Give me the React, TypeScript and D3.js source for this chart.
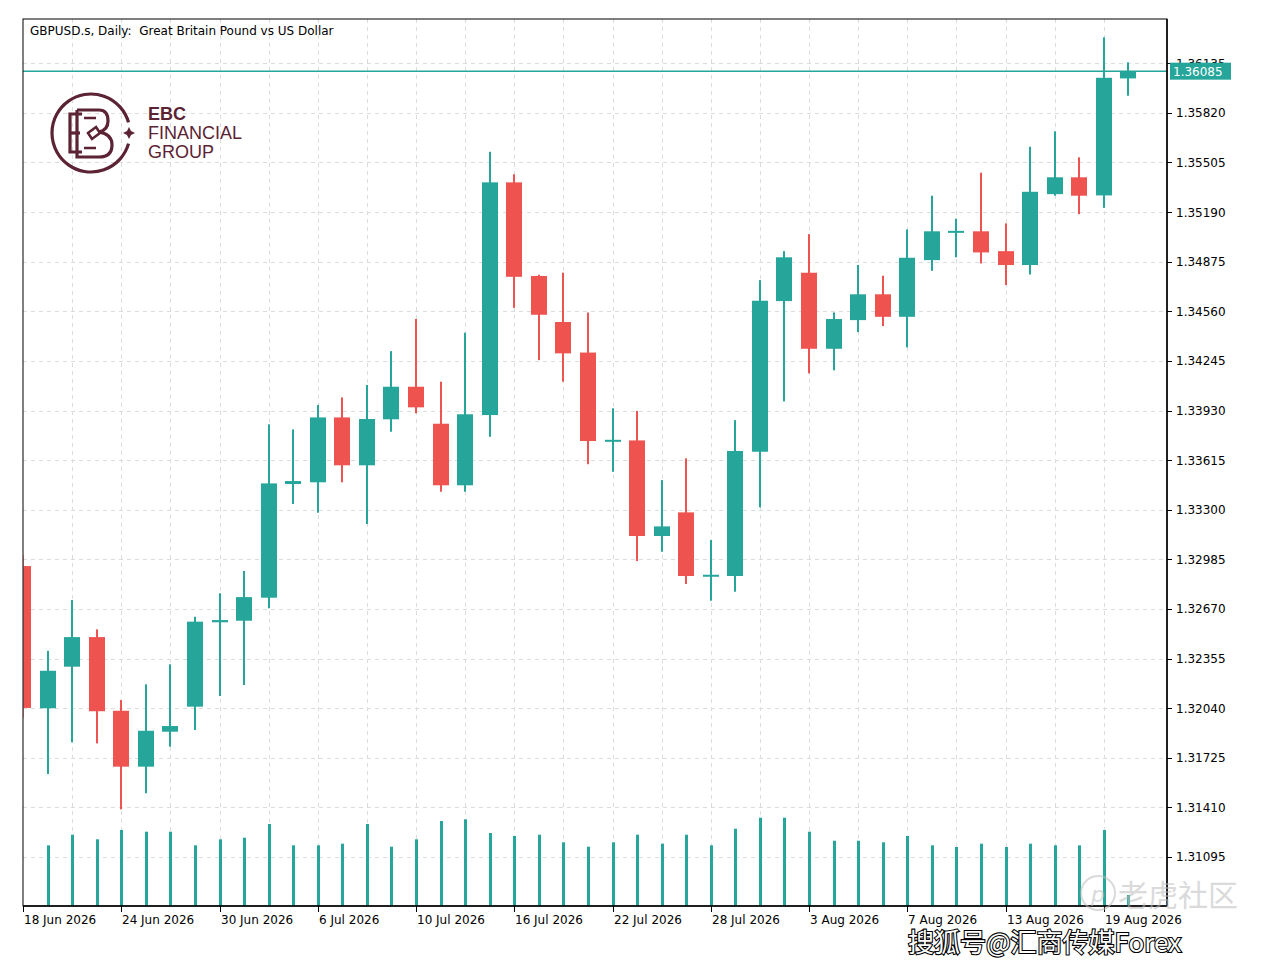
import * as d3 from "d3";

const title = "GBPUSD.s, Daily:  Great Britain Pound vs US Dollar";

const dates = [
  "2026-06-18", "2026-06-19", "2026-06-22", "2026-06-23", "2026-06-24", "2026-06-25", "2026-06-26",
  "2026-06-29", "2026-06-30", "2026-07-01", "2026-07-02", "2026-07-03", "2026-07-06", "2026-07-07",
  "2026-07-08", "2026-07-09", "2026-07-10", "2026-07-13", "2026-07-14", "2026-07-15", "2026-07-16",
  "2026-07-17", "2026-07-20", "2026-07-21", "2026-07-22", "2026-07-23", "2026-07-24", "2026-07-27",
  "2026-07-28", "2026-07-29", "2026-07-30", "2026-07-31", "2026-08-03", "2026-08-04", "2026-08-05",
  "2026-08-06", "2026-08-07", "2026-08-10", "2026-08-11", "2026-08-12", "2026-08-13", "2026-08-14",
  "2026-08-17", "2026-08-18", "2026-08-19", "2026-08-20",
];

const open = [
  1.32942, 1.32039, 1.32303, 1.32491, 1.32023, 1.31668, 1.3189, 1.32049, 1.32585, 1.32595,
  1.32741, 1.33463, 1.33474, 1.33886, 1.33582, 1.33874, 1.34081, 1.33846, 1.33455, 1.33901,
  1.35379, 1.34784, 1.34492, 1.34298, 1.33736, 1.3374, 1.33133, 1.33283, 1.32879, 1.32879,
  1.33668, 1.34625, 1.34805, 1.34322, 1.34504, 1.34668, 1.34525, 1.34885, 1.35063, 1.35068,
  1.34942, 1.34854, 1.35304, 1.35411, 1.35296, 1.36039,
];
const high = [
  1.3301, 1.32404, 1.32726, 1.3254, 1.32091, 1.32191, 1.32318, 1.3262, 1.32769, 1.32911,
  1.33842, 1.3381, 1.33965, 1.34013, 1.34092, 1.34307, 1.34511, 1.34113, 1.34424, 1.35573,
  1.3543, 1.34792, 1.34805, 1.34552, 1.33944, 1.33927, 1.33488, 1.33626, 1.33107, 1.33869,
  1.34758, 1.34942, 1.3505, 1.34553, 1.34854, 1.34786, 1.3508, 1.35294, 1.35148, 1.3544,
  1.35118, 1.35605, 1.35703, 1.35538, 1.363, 1.36141,
];
const low = [
  1.3198, 1.31621, 1.31823, 1.31816, 1.31397, 1.31499, 1.31795, 1.31901, 1.32117, 1.32187,
  1.32674, 1.33336, 1.33281, 1.33474, 1.33209, 1.33795, 1.33912, 1.33414, 1.33414, 1.33763,
  1.34582, 1.3425, 1.34113, 1.33589, 1.33541, 1.32974, 1.33033, 1.32828, 1.32722, 1.32779,
  1.33315, 1.33988, 1.34166, 1.34185, 1.34428, 1.34466, 1.34331, 1.34817, 1.34903, 1.34864,
  1.34727, 1.34794, 1.35294, 1.35177, 1.35217, 1.35929,
];
const close = [
  1.32041, 1.32277, 1.32491, 1.3202, 1.31668, 1.31896, 1.31926, 1.32589, 1.32599, 1.32745,
  1.33467, 1.33482, 1.33886, 1.33582, 1.33876, 1.34081, 1.3395, 1.33455, 1.33906, 1.35379,
  1.34779, 1.34538, 1.34293, 1.33736, 1.33739, 1.33133, 1.33194, 1.32879, 1.32882, 1.33673,
  1.34627, 1.34903, 1.34322, 1.34511, 1.34668, 1.34525, 1.349, 1.35068, 1.35066, 1.34934,
  1.34854, 1.35319, 1.35411, 1.35294, 1.36043, 1.36085,
];
// tick volume, thousands
const volume = [
  60, 60.7, 71.3, 66.7, 76, 74.3, 74.3, 60.7, 66.7, 68.3,
  82, 60.7, 60.7, 62.3, 82, 59.3, 66.7, 85, 86.7, 73,
  70, 71.3, 63.7, 59.3, 63.7, 71.3, 62.3, 71.3, 60.7, 77.3,
  88.3, 88.3, 74.3, 65.3, 65.3, 63.7, 70, 60.7, 59, 62.3,
  59, 62.3, 60.7, 60.7, 76, 11,
];

const priceTicks = [
  1.31095, 1.3141, 1.31725, 1.3204, 1.32355, 1.3267, 1.32985, 1.333, 1.33615,
  1.3393, 1.34245, 1.3456, 1.34875, 1.3519, 1.35505, 1.3582, 1.36135,
];
const lastPrice = 1.36085;

const GREEN = "#26a69a";
const RED = "#ef5350";
const GRID = "#dcdcdc";
const LOGO = "#5b2333";
const FONT = "'DejaVu Sans', Tahoma, sans-serif";

const W = 1267;
const H = 970;
const left = 23;
const right = 1167;
const top = 19;
const bottom = 906;

export default function App() {
  const parse = d3.timeParse("%Y-%m-%d");
  const fmt = d3.timeFormat("%-d %b %Y");
  const n = dates.length;

  const x = d3.scaleLinear().domain([0, n - 1]).range([23.1, 23.1 + (n - 1) * 24.56]);
  const y = d3.scaleLinear().domain([1.31095, 1.36135]).range([856.9, 63.3]);
  const v = d3.scaleLinear().domain([0, 100]).range([bottom, bottom - 100]);

  const idx = d3.range(n);
  const labelIdx = idx.filter((i) => i % 4 === 0);
  const gridIdx = idx.filter((i) => i % 2 === 0 && i > 0);
  const bodyW = 16;
  const yl = y(lastPrice);

  return (
    <svg width={W} height={H} style={{ position: "absolute", left: 0, top: 0, background: "#fff" }}>
      <defs>
        <clipPath id="plot">
          <rect x={left + 0.5} y={top} width={right - left - 0.5} height={bottom - top} />
        </clipPath>
        <clipPath id="vol">
          <rect x={left + 3} y={top} width={right - left - 3} height={bottom - top} />
        </clipPath>
      </defs>
      <rect width={W} height={H} fill="#fff" />

      {/* grid */}
      <g stroke={GRID} strokeWidth={1} strokeDasharray="4 4">
        {priceTicks.map((p) => (
          <line key={p} x1={left} x2={right} y1={Math.round(y(p)) + 0.5} y2={Math.round(y(p)) + 0.5} />
        ))}
        {gridIdx.map((i) => (
          <line key={i} x1={Math.round(x(i)) + 0.5} x2={Math.round(x(i)) + 0.5} y1={top} y2={bottom} />
        ))}
      </g>

      {/* logo */}
      <g stroke={LOGO} strokeWidth={3.2} fill="none" strokeLinejoin="miter">
        <path d={d3.arc()({ innerRadius: 39, outerRadius: 39, startAngle: 0.55 * Math.PI + 0.12, endAngle: 2.45 * Math.PI - 0.12 }) || ""} transform="translate(91,133)" />
        <path d="M 82 114 H 70 V 152 H 82" />
        <path d="M 70 133 H 80" />
        <path d="M 77 110 H 99 Q 108 110 108 121 Q 108 130 99 132 Q 112 134 112 145 Q 112 157 99 157 H 77 V 110" />
        <path d="M 84 118 H 96 M 88 133 L 96 127 L 100 133 L 92 139 Z M 84 148 H 96" strokeWidth={2.6} />
      </g>
      <path d="M 129 127 L 131 131 L 135 133 L 131 135 L 129 139 L 127 135 L 123 133 L 127 131 Z" fill={LOGO} />
      <g fill={LOGO} fontFamily="'Liberation Sans', Arial, sans-serif" fontSize={18}>
        <text x={148} y={120} fontWeight="bold">EBC</text>
        <text x={148} y={139}>FINANCIAL</text>
        <text x={148} y={158}>GROUP</text>
      </g>

      {/* volumes */}
      <g clipPath="url(#vol)">
        {idx.map((i) => (
          <rect key={i} x={Math.round(x(i)) - 1} y={v(volume[i])} width={3} height={bottom - v(volume[i])} fill={GREEN} />
        ))}
      </g>

      {/* candles */}
      <g clipPath="url(#plot)">
        {idx.map((i) => {
          const up = close[i] >= open[i];
          const c = up ? GREEN : RED;
          const cx = Math.round(x(i));
          const yt = y(Math.max(open[i], close[i]));
          const yb = y(Math.min(open[i], close[i]));
          const h = Math.max(2, yb - yt);
          return (
            <g key={i}>
              <rect x={cx - 1} y={y(high[i])} width={2} height={y(low[i]) - y(high[i])} fill={c} />
              <rect x={cx - bodyW / 2} y={h === 2 ? (yt + yb) / 2 - 1 : yt} width={bodyW} height={h} fill={c} />
            </g>
          );
        })}
      </g>

      {/* current price line */}
      <line x1={left} x2={right} y1={yl} y2={yl} stroke={GREEN} strokeWidth={1.5} />

      {/* frame */}
      <rect x={left} y={top} width={right - left} height={bottom - top} fill="none" stroke="#000" strokeWidth={1} />
      <line x1={left} x2={right} y1={bottom} y2={bottom} stroke="#000" strokeWidth={1.5} />
      <line x1={right} x2={right} y1={top} y2={bottom} stroke="#000" strokeWidth={1.5} />

      {/* title */}
      <text x={30} y={35} fontFamily={FONT} fontSize={12} fill="#000" style={{ whiteSpace: "pre" }}>{title}</text>

      {/* y axis */}
      <g fontFamily={FONT} fontSize={12} fill="#000">
        {priceTicks.map((p) => (
          <g key={p}>
            <line x1={right} x2={right + 5} y1={Math.round(y(p)) + 0.5} y2={Math.round(y(p)) + 0.5} stroke="#000" />
            <text x={right + 9} y={y(p) + 4.5}>{p.toFixed(5)}</text>
          </g>
        ))}
      </g>
      <rect x={right + 3} y={yl - 8.5} width={61} height={17} fill={GREEN} />
      <text x={right + 6} y={yl + 4.5} fontFamily={FONT} fontSize={12} fill="#fff">{lastPrice.toFixed(5)}</text>

      {/* x axis */}
      <g fontFamily={FONT} fontSize={12} fill="#000">
        {labelIdx.map((i) => {
          const tx = i === 0 ? left : Math.round(x(i));
          return (
            <g key={i}>
              <line x1={tx + 0.5} x2={tx + 0.5} y1={bottom} y2={bottom + 6} stroke="#000" />
              <text x={tx + 1} y={924}>{fmt(parse(dates[i]) as Date)}</text>
            </g>
          );
        })}
      </g>

      {/* watermarks */}
      <g opacity={0.55}>
        <circle cx={1098} cy={893} r={17} fill="none" stroke="#bdbdbd" strokeWidth={2} />
        <text x={1098} y={902} textAnchor="middle" fontFamily="'DejaVu Sans', sans-serif" fontSize={22} fontStyle="italic" fill="#bdbdbd">p</text>
        <text x={1118} y={906} fontFamily="'Noto Sans CJK SC', sans-serif" fontSize={30} fill="#bdbdbd">老虎社区</text>
      </g>
      <text x={908} y={952} fontFamily="'Noto Sans CJK SC', sans-serif" fontSize={26} fill="#fff" stroke="#000" strokeWidth={2.2} style={{ paintOrder: "stroke" }}>
        搜狐号@汇商传媒Forex
      </text>
    </svg>
  );
}
